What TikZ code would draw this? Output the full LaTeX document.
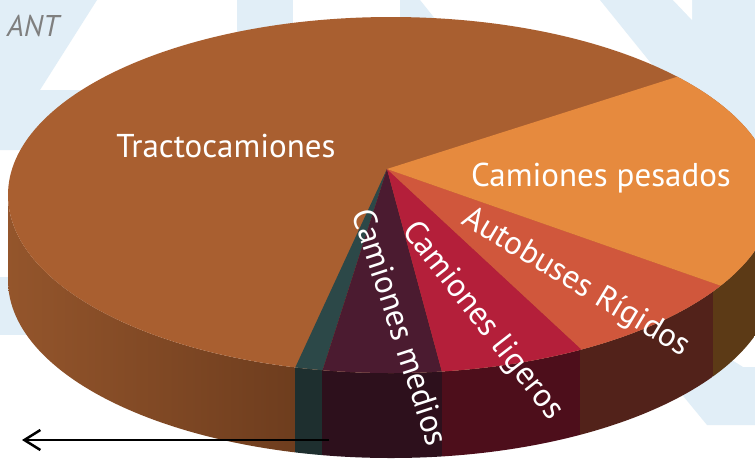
\documentclass[tikz,border=0pt]{standalone}
\usepackage{fontspec}
\setmainfont{PT Sans}
\usetikzlibrary{arrows.meta,calc}

\definecolor{fondo}{HTML}{E1EEF7}
\definecolor{gris}{HTML}{7F7F7F}
\definecolor{tracto}{HTML}{A95F30}
\definecolor{pesados}{HTML}{E68A3E}
\definecolor{autobus}{HTML}{D0573C}
\definecolor{ligeros}{HTML}{B41F3A}
\definecolor{medios}{HTML}{4B1B30}
\definecolor{verde}{HTML}{2C4848}
\definecolor{ladoTractoA}{HTML}{95562C}
\definecolor{ladoTractoB}{HTML}{6E3D1E}
\definecolor{ladoPesados}{HTML}{5C3A16}
\definecolor{ladoAutobus}{HTML}{52221A}
\definecolor{ladoLigeros}{HTML}{4D0E1B}
\definecolor{ladoMedios}{HTML}{2D101C}
\definecolor{ladoVerde}{HTML}{1E2F2F}

\begin{document}
\begin{tikzpicture}[x=1pt,y=-1pt,
        etiqueta/.style={text=white,inner sep=0pt,font=\fontsize{33}{40}\selectfont}]
        \useasboundingbox (0,0) rectangle (755,467);
        \clip (0,0) rectangle (755,467);

        % Fondo
        \fill[white] (0,0) rectangle (755,467);
        \fill[fondo] (0,0) -- (97,0) -- (40,90) -- (120,90) -- (120,150) -- (0,150) -- cycle;
        \fill[fondo] (0,277) rectangle (120,335);
        \fill[fondo] (237,0) rectangle (293,60);
        \fill[fondo] (400,0) -- (420,0) -- (440,25) -- (400,25) -- cycle;
        \fill[fondo] (600,0) -- (755,0) -- (755,192) -- cycle;
        \fill[white] (673,0) -- (692,0) -- (692,20) -- cycle;
        \fill[fondo] (700,340) -- (743,367) -- (755,367) -- (755,425) -- (707,425) -- (670,380) -- cycle;

        % Centro y bordes de los sectores
        \coordinate (c) at (387,169);
        \coordinate (r1) at (295,368);
        \coordinate (r2) at (322,372);
        \coordinate (r3) at (442,372);
        \coordinate (r4) at (580,348);
        \coordinate (r5) at (713,283);
        \coordinate (r6) at (667,80);

        % Caras laterales
        \begin{scope}
            \clip (8,195) arc[start angle=180, end angle=0, x radius=383, y radius=178]
                -- (774,280) arc[start angle=0, end angle=180, x radius=383, y radius=178] -- cycle;
            \shade[left color=ladoTractoA, right color=ladoTractoB] (0,180) rectangle (295,470);
            \fill[ladoVerde]   (295,180) rectangle (322,470);
            \fill[ladoMedios]  (322,180) rectangle (442,470);
            \fill[ladoLigeros] (442,180) rectangle (580,470);
            \fill[ladoAutobus] (580,180) rectangle (713,470);
            \fill[ladoPesados] (713,180) rectangle (780,470);
        \end{scope}

        % Cara superior
        \fill[tracto] (391,195) ellipse[x radius=383, y radius=178];
        \begin{scope}
            \clip (391,195) ellipse[x radius=383, y radius=178];
            \fill[verde]   (c) -- ($(c)!3!(r1)$) -- ($(c)!3!(r2)$) -- cycle;
            \fill[medios]  (c) -- ($(c)!3!(r2)$) -- ($(c)!3!(r3)$) -- cycle;
            \fill[ligeros] (c) -- ($(c)!3!(r3)$) -- ($(c)!3!(r4)$) -- cycle;
            \fill[autobus] (c) -- ($(c)!3!(r4)$) -- ($(c)!3!(r5)$) -- cycle;
            \fill[pesados] (c) -- ($(c)!3!(r5)$) -- ($(c)!3!(r6)$) -- cycle;
        \end{scope}

        % Etiquetas
        \node[etiqueta, anchor=base] (tracto) at (226,157) {Tractocamiones};
        \node[etiqueta, anchor=base] (pesados) at (601,186) {Camiones pesados};
        \node[etiqueta, rotate=-31] (autobus) at (576,283) {Autobuses Rígidos};
        \node[etiqueta, rotate=-52] (ligeros) at (482,321) {Camiones ligeros};
        \node[etiqueta, rotate=-72] (medios) at (401,327) {Camiones medios};
        \node[text=gris, inner sep=0pt, anchor=base west, font=\fontsize{30}{36}\selectfont\itshape] (ant) at (7,36) {ANT};

        % Flecha
        \coordinate (flechaIni) at (329,440);
        \coordinate (flechaFin) at (22,440);
        \draw[line width=2.5pt, -{Straight Barb[length=16pt, width=20pt]}] (flechaIni) -- (flechaFin);
    \end{tikzpicture}
\end{document}
